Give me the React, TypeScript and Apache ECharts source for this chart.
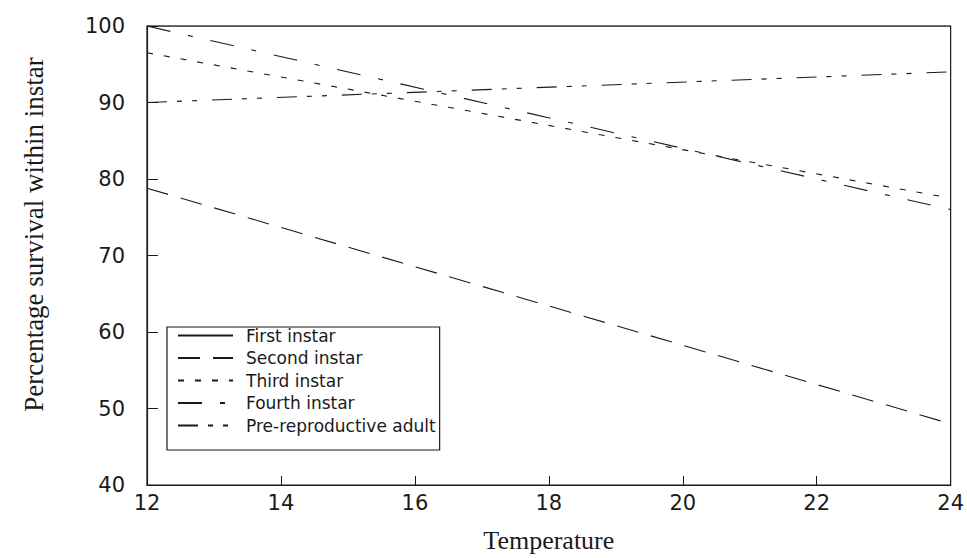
import React, { useEffect, useRef } from "react";
import * as echarts from "echarts";

const temperatures = [12, 24];
const seriesNames = [
  "First instar",
  "Second instar",
  "Third instar",
  "Fourth instar",
  "Pre-reproductive adult",
];
const firstInstar = [100, 100];
const secondInstar = [78.8, 48];
const thirdInstar = [96.5, 77.5];
const fourthInstar = [100, 76];
const preReproductive = [90, 94];
const xTicks = [12, 14, 16, 18, 20, 22, 24];
const yTicks = [40, 50, 60, 70, 80, 90, 100];

const dashes: (number[] | "solid")[] = [
  "solid",
  [22, 13],
  [6, 11],
  [24, 18, 5, 18],
  [20, 10, 5, 10, 5, 15],
];

export default function App() {
  const ref = useRef<HTMLDivElement>(null);
  useEffect(() => {
    if (!ref.current) return;
    const chart = echarts.init(ref.current, undefined, { renderer: "svg" });
    const values = [firstInstar, secondInstar, thirdInstar, fourthInstar, preReproductive];
    const ink = "#1a1a1a";
    chart.setOption({
      animation: false,
      backgroundColor: "#ffffff",
      grid: {
        left: 147,
        right: 9,
        top: 26,
        bottom: 72,
        show: true,
        borderColor: ink,
        borderWidth: 1.2,
      },
      legend: {
        orient: "vertical",
        left: 167,
        top: 327,
        itemWidth: 55,
        itemHeight: 14,
        itemGap: 5.5,
        padding: [0, 4, 16, 10],
        borderColor: ink,
        borderWidth: 1.2,
        backgroundColor: "#ffffff",
        itemStyle: { opacity: 0 },
        textStyle: {
          fontFamily: "DejaVu Sans",
          fontSize: 17,
          color: ink,
          padding: [0, 0, 0, 8],
        },
        data: seriesNames,
      },
      xAxis: {
        type: "value",
        min: xTicks[0],
        max: xTicks[xTicks.length - 1],
        interval: 2,
        name: "Temperature",
        nameLocation: "middle",
        nameGap: 42,
        nameTextStyle: {
          fontFamily: "Liberation Serif",
          fontSize: 26,
          color: ink,
        },
        axisLine: { lineStyle: { color: ink, width: 1.2 } },
        axisTick: { inside: true, length: 9, lineStyle: { color: ink } },
        splitLine: { show: false },
        axisLabel: {
          fontFamily: "DejaVu Sans",
          fontSize: 21,
          color: ink,
          margin: 7,
          showMinLabel: true,
          showMaxLabel: true,
        },
      },
      yAxis: {
        type: "value",
        min: yTicks[0],
        max: yTicks[yTicks.length - 1],
        interval: 10,
        name: "Percentage survival within instar",
        nameLocation: "middle",
        nameGap: 100,
        nameRotate: 90,
        nameTextStyle: {
          fontFamily: "Liberation Serif",
          fontSize: 27,
          color: ink,
          padding: [0, 0, 0, 42],
        },
        axisLine: { show: true, lineStyle: { color: ink, width: 1.2 } },
        axisTick: { show: true, inside: true, length: 11, lineStyle: { color: ink } },
        splitLine: { show: false },
        axisLabel: {
          fontFamily: "DejaVu Sans",
          fontSize: 21,
          color: ink,
          margin: 22,
          padding: [0, 0, 10, 0],
        },
      },
      series: seriesNames.map((name, i) => ({
        name,
        type: "line",
        symbol: "none",
        data: temperatures.map((t, j) => [t, values[i][j]]),
        lineStyle: { color: ink, width: 1.1, type: dashes[i] },
        itemStyle: { color: ink },
        z: 2,
      })),
    });
    return () => chart.dispose();
  }, []);
  return (
    <div
      ref={ref}
      style={{ position: "absolute", left: 0, top: 0, width: 967, height: 558 }}
    />
  );
}
